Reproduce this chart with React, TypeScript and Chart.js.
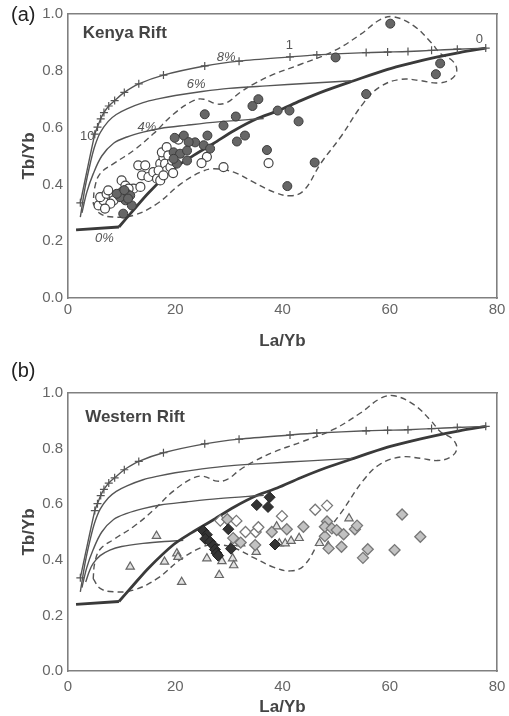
import React, { useEffect, useRef } from 'react';
import { Chart, registerables } from 'chart.js';

Chart.register(...registerables);
Chart.defaults.font.family = "'Liberation Sans', Arial, Helvetica, sans-serif";

type P = [number, number];

// ---- model curves (shared by both panels) ----
const curve8Markers: P[] = [
  [2.3, 0.335], [5.0, 0.577], [5.5, 0.602], [6.1, 0.631], [6.7, 0.653], [7.6, 0.676],
  [8.7, 0.695], [10.5, 0.724], [13.2, 0.754], [17.8, 0.785], [25.5, 0.817], [31.9, 0.834],
  [41.4, 0.849], [46.4, 0.856], [55.6, 0.864], [59.6, 0.866], [63.4, 0.868], [67.8, 0.872],
  [72.6, 0.876], [77.9, 0.88],
];
const curve6: P[] = [
  [2.3, 0.285], [3.2, 0.39], [4.2, 0.478], [5.0, 0.535], [6.0, 0.582], [7.5, 0.622],
  [9.0, 0.646], [11.0, 0.666], [14.0, 0.688], [17.0, 0.702], [20.0, 0.713], [25.0, 0.727],
  [30.0, 0.738], [37.0, 0.747], [45.0, 0.756], [53.0, 0.765],
];
const curve4: P[] = [
  [2.6, 0.3], [3.5, 0.372], [4.7, 0.437], [6.3, 0.5], [8.5, 0.545], [11.0, 0.567],
  [14.0, 0.584], [17.2, 0.597], [22.0, 0.608], [28.0, 0.62], [36.5, 0.632],
];
const curve2: P[] = [
  [3.3, 0.32], [4.0, 0.36], [4.7, 0.387], [6.0, 0.415], [7.8, 0.435], [10.0, 0.448],
  [14.0, 0.459], [18.0, 0.466], [21.5, 0.47],
];
const curve0Flat: P[] = [[1.5, 0.24], [9.5, 0.25]];
const curve0: P[] = [
  [9.5, 0.25], [12.0, 0.305], [15.0, 0.37], [19.7, 0.455], [23.0, 0.497], [27.2, 0.545],
  [31.0, 0.59], [35.3, 0.632], [39.0, 0.658], [43.4, 0.695], [48.0, 0.73], [53.3, 0.765],
  [59.6, 0.805], [64.0, 0.827], [68.5, 0.847], [73.0, 0.864], [78.0, 0.88],
];
const envelope: P[] = [
  [4.7, 0.332], [6.0, 0.297], [8.5, 0.285], [12.2, 0.291], [16.6, 0.332], [20.9, 0.4],
  [24.7, 0.443], [27.2, 0.455], [30.9, 0.443], [34.6, 0.408], [38.4, 0.373], [41.5, 0.36],
  [44.0, 0.379], [47.1, 0.473], [50.8, 0.566], [55.2, 0.689], [58.3, 0.745], [62.1, 0.77],
  [65.8, 0.765], [68.9, 0.757], [71.4, 0.77], [72.5, 0.8], [71.7, 0.835], [69.5, 0.86],
  [67.7, 0.9], [64.5, 0.958], [60.8, 0.99], [58.3, 0.981], [54.6, 0.929], [49.6, 0.87],
  [43.4, 0.823], [38.4, 0.788], [34.6, 0.753], [32.1, 0.724], [29.7, 0.689], [27.8, 0.683],
  [25.3, 0.7], [23.4, 0.695], [19.7, 0.648], [15.9, 0.578], [12.2, 0.519], [8.5, 0.473],
  [6.0, 0.438], [5.0, 0.39], [4.7, 0.332],
];

// ---- (a) Kenya Rift samples ----
const kenyaFilled: P[] = [
  [60.1, 0.966], [49.9, 0.847], [69.4, 0.826], [68.6, 0.788], [55.6, 0.718], [35.5, 0.7],
  [34.4, 0.676], [39.1, 0.66], [41.3, 0.66], [43.0, 0.622], [25.5, 0.647], [31.3, 0.639],
  [29.0, 0.607], [26.0, 0.572], [33.0, 0.572], [31.5, 0.551], [25.3, 0.538], [23.7, 0.548],
  [37.1, 0.521], [46.0, 0.477], [40.9, 0.394], [21.6, 0.572], [19.9, 0.564], [22.5, 0.549],
  [26.5, 0.526], [19.7, 0.513], [20.9, 0.508], [22.2, 0.519], [20.3, 0.473], [22.2, 0.484],
  [19.7, 0.49], [10.3, 0.297], [10.0, 0.373], [11.0, 0.367], [11.6, 0.361], [10.7, 0.344],
  [11.9, 0.326], [9.7, 0.355], [9.1, 0.367], [10.5, 0.38], [11.2, 0.35],
];
const kenyaOpen: P[] = [
  [5.7, 0.326], [6.6, 0.344], [6.0, 0.355], [7.2, 0.367], [8.5, 0.361], [8.5, 0.344],
  [7.9, 0.332], [6.9, 0.315], [7.5, 0.379], [10.0, 0.414], [10.7, 0.396], [12.2, 0.385],
  [13.5, 0.391], [11.3, 0.385], [13.1, 0.467], [14.4, 0.467], [13.8, 0.432], [15.0, 0.426],
  [15.9, 0.443], [16.6, 0.42], [17.2, 0.473], [17.8, 0.496], [17.5, 0.513], [18.4, 0.531],
  [18.1, 0.473], [18.4, 0.449], [16.9, 0.449], [19.1, 0.461], [19.4, 0.484], [18.7, 0.502],
  [17.2, 0.414], [17.8, 0.432], [25.9, 0.497], [24.9, 0.475], [29.0, 0.461], [37.4, 0.475],
  [19.6, 0.44], [20.6, 0.558],
];

// ---- (b) Western Rift samples ----
const westTriangles: P[] = [
  [11.6, 0.375], [16.5, 0.486], [18.0, 0.393], [20.3, 0.423], [20.5, 0.41], [21.2, 0.32],
  [25.9, 0.405], [28.2, 0.345], [28.7, 0.395], [30.7, 0.405], [30.9, 0.38], [30.8, 0.46],
  [32.2, 0.459], [35.1, 0.428], [38.9, 0.52], [39.4, 0.459], [40.5, 0.459], [41.6, 0.468],
  [43.1, 0.478], [46.9, 0.46], [48.5, 0.45], [52.4, 0.549],
];
const westBlackDiamonds: P[] = [
  [25.2, 0.505], [25.9, 0.49], [25.6, 0.475], [26.5, 0.465], [27.1, 0.452], [27.4, 0.437],
  [27.7, 0.424], [28.0, 0.415], [29.9, 0.51], [30.4, 0.44], [35.2, 0.597], [37.3, 0.59],
  [37.6, 0.625], [38.6, 0.455],
];
const westOpenDiamonds: P[] = [
  [28.4, 0.541], [31.4, 0.54], [33.1, 0.5], [35.0, 0.5], [35.5, 0.517], [39.9, 0.557],
  [46.1, 0.58], [48.3, 0.595],
];
const westGrayDiamonds: P[] = [
  [29.7, 0.546], [30.8, 0.478], [32.2, 0.462], [34.9, 0.453], [38.0, 0.5], [40.8, 0.51],
  [43.9, 0.519], [47.9, 0.485], [48.3, 0.538], [47.9, 0.519], [48.6, 0.441], [49.2, 0.513],
  [50.1, 0.507], [51.0, 0.447], [51.4, 0.492], [53.5, 0.51], [53.9, 0.523], [55.0, 0.407],
  [55.9, 0.438], [60.9, 0.435], [62.3, 0.563], [65.7, 0.483],
];

// ---- axis ticks ----
const xTickStep = 20;
const yTickStep = 0.2;

// ---- text labels ----
type Label = { text: string; x: number; y: number; font: string; color: string; align?: CanvasTextAlign; baseline?: CanvasTextBaseline };
const kenyaLabels: Label[] = [
  { text: 'Kenya Rift', x: 2.75, y: 0.917, font: "bold 17px 'Liberation Sans', Arial", color: '#444', align: 'left', baseline: 'alphabetic' },
  { text: '8%', x: 29.5, y: 0.846, font: "italic 13px 'Liberation Sans', Arial", color: '#555' },
  { text: '6%', x: 23.9, y: 0.753, font: "italic 13px 'Liberation Sans', Arial", color: '#555' },
  { text: '4%', x: 14.7, y: 0.601, font: "italic 13px 'Liberation Sans', Arial", color: '#555' },
  { text: '0%', x: 6.8, y: 0.209, font: "italic 13px 'Liberation Sans', Arial", color: '#555' },
  { text: '1', x: 41.3, y: 0.888, font: "13px 'Liberation Sans', Arial", color: '#555' },
  { text: '0', x: 76.7, y: 0.911, font: "13px 'Liberation Sans', Arial", color: '#555' },
  { text: '10', x: 3.6, y: 0.57, font: "13px 'Liberation Sans', Arial", color: '#555' },
];
const westLabels: Label[] = [
  { text: 'Western Rift', x: 3.2, y: 0.897, font: "bold 17px 'Liberation Sans', Arial", color: '#444', align: 'left', baseline: 'alphabetic' },
];

const toXY = (a: P[]) => a.map(([x, y]) => ({ x, y }));

function lineDs(data: P[], opts: any) {
  return {
    data: toXY(data),
    showLine: true,
    pointRadius: 0,
    borderColor: '#555',
    borderWidth: 1.4,
    tension: 0.35,
    fill: false,
    order: 10,
    ...opts,
  };
}

function curveDatasets(withTwo: boolean) {
  const ds: any[] = [
    lineDs(curve8Markers, { pointStyle: 'cross', pointRadius: 4, pointBorderWidth: 1.2, pointBorderColor: '#555', tension: 0.3 }),
    lineDs(curve6, {}),
    lineDs(curve4, {}),
    lineDs(curve0Flat, { borderColor: '#3a3a3a', borderWidth: 2.8, tension: 0 }),
    lineDs(curve0, { borderColor: '#3a3a3a', borderWidth: 2.8, tension: 0.3 }),
    lineDs(envelope, { borderDash: [6, 4], borderWidth: 1.4, tension: 0.4 }),
  ];
  if (withTwo) ds.push(lineDs(curve2, {}));
  return ds;
}

function pts(data: P[], style: string, r: number, bg: string, bc: string, bw: number, order: number) {
  return {
    data: toXY(data),
    showLine: false,
    pointStyle: style,
    pointRadius: r,
    pointBackgroundColor: bg,
    pointBorderColor: bc,
    pointBorderWidth: bw,
    order,
  };
}

const border = { display: true, color: '#808080', width: 1.6 };

function makeConfig(datasets: any[], labels: Label[], letter: string, letterY: number, padTop: number, xAxisH: number, xTickLineHeight: number, xTitlePadBottom: number) {
  const textPlugin = {
    id: 'texts',
    afterDatasetsDraw(chart: any) {
      const { ctx } = chart;
      const xs = chart.scales.x;
      const ys = chart.scales.y;
      ctx.save();
      for (const l of labels) {
        ctx.font = l.font;
        ctx.fillStyle = l.color;
        ctx.textAlign = l.align || 'center';
        ctx.textBaseline = l.baseline || 'middle';
        ctx.fillText(l.text, xs.getPixelForValue(l.x), ys.getPixelForValue(l.y));
      }
      ctx.font = "20px 'Liberation Sans', Arial";
      ctx.fillStyle = '#222';
      ctx.textAlign = 'left';
      ctx.textBaseline = 'middle';
      ctx.fillText(letter, 11, letterY);
      ctx.restore();
    },
  };
  return {
    type: 'scatter' as const,
    data: { datasets },
    options: {
      responsive: false,
      animation: false as const,
      layout: { padding: { top: padTop, right: 12, bottom: 0, left: 0 } },
      plugins: { legend: { display: false }, tooltip: { enabled: false } },
      scales: {
        x: {
          type: 'linear', position: 'bottom', min: 0, max: 80,
          ticks: { stepSize: xTickStep, color: '#666', font: { size: 15, lineHeight: xTickLineHeight }, padding: 3 },
          grid: { display: false, drawTicks: false },
          border,
          title: { display: true, text: 'La/Yb', color: '#444', font: { size: 17, weight: 'bold' }, padding: { top: 0, bottom: xTitlePadBottom } },
          afterFit: (s: any) => { s.height = xAxisH; },
        },
        y: {
          type: 'linear', position: 'left', min: 0, max: 1,
          ticks: { stepSize: yTickStep, color: '#666', font: { size: 15 }, padding: 5, callback: (v: any) => Number(v).toFixed(1) },
          grid: { display: false, drawTicks: false },
          border,
          title: { display: true, text: 'Tb/Yb', color: '#444', font: { size: 17, weight: 'bold' }, padding: { top: 19, bottom: 0 } },
          afterFit: (s: any) => { s.width = 68; },
        },
        xTop: {
          type: 'linear', position: 'top', min: 0, max: 80,
          ticks: { display: false }, grid: { display: false, drawTicks: false }, border,
          afterFit: (s: any) => { s.height = 0; },
        },
        yRight: {
          type: 'linear', position: 'right', min: 0, max: 1,
          ticks: { display: false }, grid: { display: false, drawTicks: false }, border,
          afterFit: (s: any) => { s.width = 0; },
        },
      },
    },
    plugins: [textPlugin],
  };
}

function Panel({ top, height, config }: { top: number; height: number; config: any }) {
  const ref = useRef<HTMLCanvasElement>(null);
  useEffect(() => {
    const chart = new Chart(ref.current as HTMLCanvasElement, config);
    return () => chart.destroy();
  }, []);
  return (
    <canvas
      ref={ref}
      width={509}
      height={height}
      style={{ position: 'absolute', left: 0, top, width: 509, height }}
    />
  );
}

export default function App() {
  const kenyaDatasets = [
    pts(kenyaFilled, 'circle', 4.5, '#666', '#3c3c3c', 1, 0),
    pts(kenyaOpen, 'circle', 4.5, '#fff', '#444', 1.2, 1),
    ...curveDatasets(false),
  ];
  const westDatasets = [
    pts(westBlackDiamonds, 'rectRot', 5.5, '#333', '#222', 1, 0),
    pts(westGrayDiamonds, 'rectRot', 5.5, '#c2c2c2', '#777', 1.3, 1),
    pts(westOpenDiamonds, 'rectRot', 5.5, '#fff', '#777', 1.3, 2),
    pts(westTriangles, 'triangle', 4.8, '#e2e2e2', '#666', 1.2, 3),
    ...curveDatasets(true),
  ];
  const cfgA = makeConfig(kenyaDatasets, kenyaLabels, '(a)', 15, 13, 55, 1.2, 1);
  const cfgB = makeConfig(westDatasets, westLabels, '(b)', 18, 40, 45, 1.75, -2);
  return (
    <div style={{ position: 'absolute', left: 0, top: 0, width: 509, height: 716, background: '#fff' }}>
      <Panel top={0} height={353} config={cfgA} />
      <Panel top={353} height={363} config={cfgB} />
    </div>
  );
}
